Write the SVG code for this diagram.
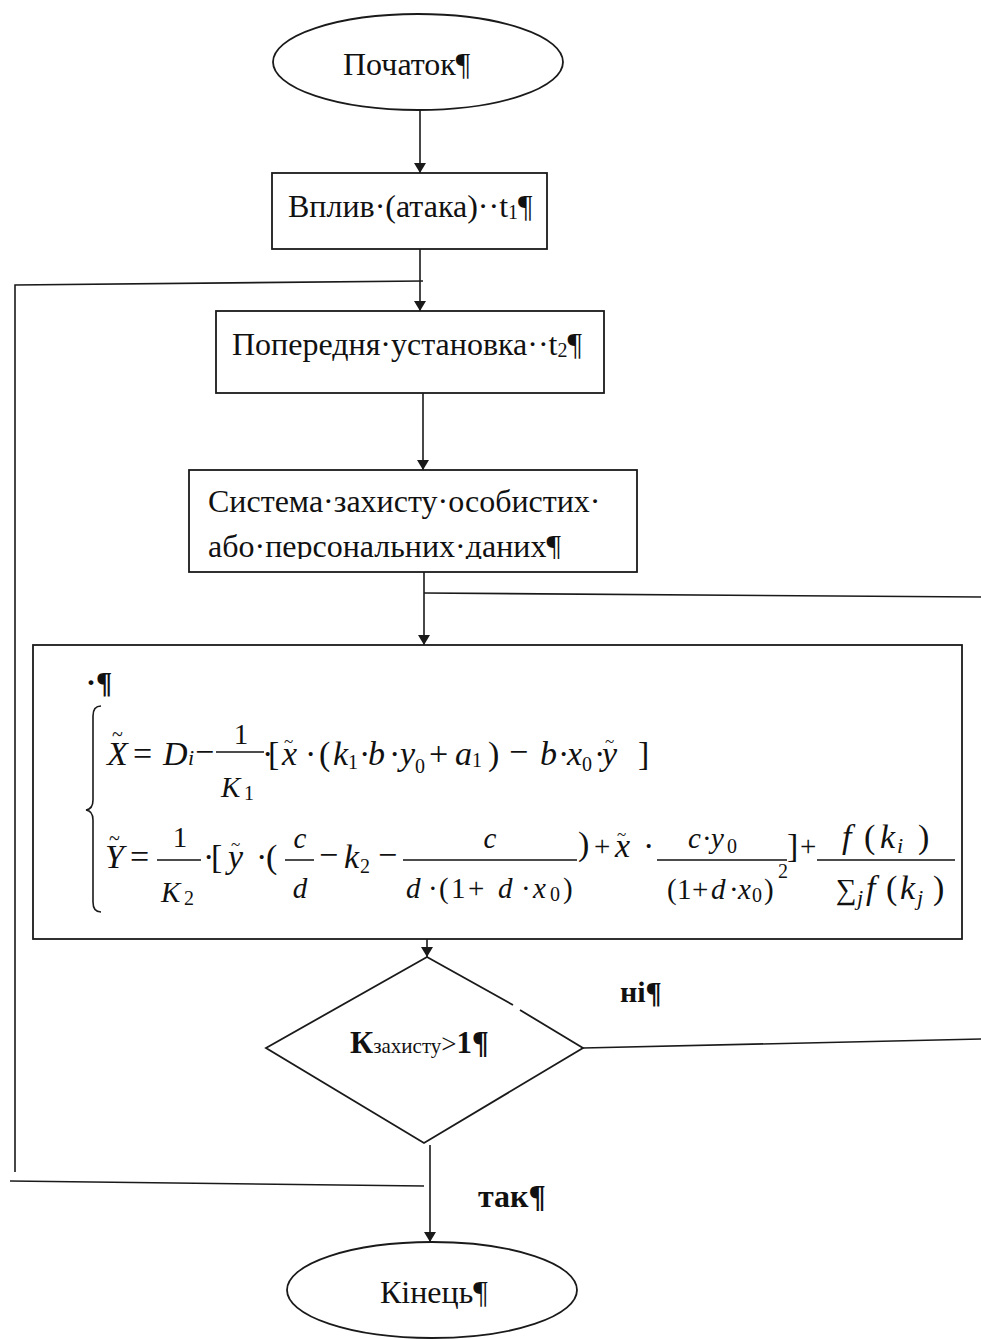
<svg xmlns="http://www.w3.org/2000/svg" width="981" height="1339" viewBox="0 0 981 1339">
<defs>
<style>
.shape{fill:#fff;stroke:#1a1a1a;stroke-width:1.8}
.con{fill:none;stroke:#1a1a1a;stroke-width:1.6}
.t{font-family:"Liberation Serif","Times New Roman",serif;font-size:32px;fill:#111}
.b{font-family:"Liberation Serif","Times New Roman",serif;font-weight:bold;fill:#111}
.mi{font-family:"Liberation Serif",serif;font-style:italic;font-size:34px;fill:#111}
.mn{font-family:"Liberation Serif",serif;font-size:34px;fill:#111}
.fi{font-family:"Liberation Serif",serif;font-style:italic;font-size:29px;fill:#111}
.fn{font-family:"Liberation Serif",serif;font-size:29px;fill:#111}
.sn{font-family:"Liberation Serif",serif;font-size:20px;fill:#111}
.si{font-family:"Liberation Serif",serif;font-style:italic;font-size:22px;fill:#111}
.tl{font-family:"Liberation Serif",serif;font-size:20px;fill:#111}
.tls{font-family:"Liberation Serif",serif;font-size:17px;fill:#111}
.bar{stroke:#111;stroke-width:1.5}
</style>
<marker id="arr" viewBox="0 0 10 12" markerWidth="10" markerHeight="12" refX="10" refY="6" orient="auto" markerUnits="userSpaceOnUse">
<path d="M0,0 L10,6 L0,12 z" fill="#1a1a1a"/>
</marker>
<clipPath id="clip3"><rect x="189" y="470" width="449" height="89"/></clipPath>
</defs>

<g id="connectors">
<line class="con" x1="420" y1="110" x2="420" y2="173" marker-end="url(#arr)"/>
<line class="con" x1="420" y1="249" x2="420" y2="311" marker-end="url(#arr)"/>
<polyline class="con" points="423,281 15,285 15,1172"/>
<line class="con" x1="423" y1="393" x2="423" y2="470" marker-end="url(#arr)"/>
<line class="con" x1="424" y1="572" x2="424" y2="645" marker-end="url(#arr)"/>
<line class="con" x1="424" y1="593" x2="981" y2="597"/>
<line class="con" x1="427" y1="939" x2="427" y2="957" marker-end="url(#arr)"/>
<line class="con" x1="583" y1="1048" x2="981" y2="1039"/>
<line class="con" x1="430" y1="1145" x2="430" y2="1242" marker-end="url(#arr)"/>
<line class="con" x1="10" y1="1181" x2="424" y2="1186"/>
</g>

<g id="start">
<ellipse class="shape" cx="418" cy="62" rx="145" ry="48"/>
<text class="t" x="343" y="75">Початок¶</text>
</g>

<g id="attack">
<rect class="shape" x="272" y="173" width="275" height="76"/>
<text class="t" x="288" y="217">Вплив·(атака)··t<tspan style="font-size:20px" dy="2">1</tspan><tspan dy="-2">¶</tspan></text>
</g>

<g id="preset">
<rect class="shape" x="216" y="311" width="388" height="82"/>
<text class="t" x="232" y="355">Попередня·установка··t<tspan style="font-size:20px" dy="2">2</tspan><tspan dy="-2">¶</tspan></text>
</g>

<g id="protection">
<rect class="shape" x="189" y="470" width="448" height="102"/>
<g clip-path="url(#clip3)">
<text class="t" x="208" y="512">Система·захисту·особистих·</text>
<text class="t" x="208" y="557">або·персональних·даних¶</text>
</g>
</g>

<g id="model">
<rect class="shape" x="33" y="645" width="929" height="294"/>
<text class="b" style="font-size:30px" x="86" y="692">·¶</text>
<path class="con" d="M101,706 Q93,706 93,716 L93,800 Q93,809 86,810 Q93,811 93,820 L93,902 Q93,912 101,912"/>
<!-- equation 1 -->
<text class="mi" x="107" y="765">X</text>
<text class="tl" x="112" y="741">~</text>
<text class="mn" x="133" y="765">=</text>
<text class="mi" x="163" y="765">D</text>
<text class="si" x="188" y="765">i</text>
<text class="mn" x="195" y="763">−</text>
<line class="bar" x1="216" y1="752" x2="264" y2="752"/>
<text class="fn" x="241" y="744" text-anchor="middle">1</text>
<text class="fi" x="221" y="797">K</text>
<text class="sn" x="244" y="800">1</text>
<text class="mn" x="262" y="765">·</text>
<text class="mn" x="268" y="765">[</text>
<text class="mi" x="282" y="765">x</text>
<text class="tls" x="284" y="747">~</text>
<text class="mn" x="305" y="765">·</text>
<text class="mn" x="319" y="765">(</text>
<text class="mi" x="333" y="765">k</text>
<text class="sn" x="348" y="769">1</text>
<text class="mn" x="359" y="765">·</text>
<text class="mi" x="368" y="765">b</text>
<text class="mn" x="389" y="765">·</text>
<text class="mi" x="400" y="765">y</text>
<text class="sn" x="415" y="773">0</text>
<text class="mn" x="429" y="765">+</text>
<text class="mi" x="455" y="765">a</text>
<text class="sn" x="472" y="767">1</text>
<text class="mn" x="488" y="765">)</text>
<text class="mn" x="509" y="763">−</text>
<text class="mi" x="540" y="765">b</text>
<text class="mn" x="558" y="765">·</text>
<text class="mi" x="567" y="765">x</text>
<text class="sn" x="582" y="771">0</text>
<text class="mn" x="594" y="765">·</text>
<text class="mi" x="602" y="765">y</text>
<text class="tls" x="605" y="747">~</text>
<text class="mn" x="638" y="765">]</text>
<!-- equation 2 -->
<text class="mi" x="105" y="868">Y</text>
<text class="tl" x="109" y="845">~</text>
<text class="mn" x="130" y="868">=</text>
<line class="bar" x1="157" y1="860" x2="201" y2="860"/>
<text class="fn" x="180" y="847" text-anchor="middle">1</text>
<text class="fi" x="161" y="902">K</text>
<text class="sn" x="184" y="905">2</text>
<text class="mn" x="203" y="868">·</text>
<text class="mn" x="211" y="868">[</text>
<text class="mi" x="228" y="868">y</text>
<text class="tls" x="231" y="850">~</text>
<text class="mn" x="256" y="868">·</text>
<text class="mn" x="266" y="868">(</text>
<line class="bar" x1="285" y1="860" x2="314" y2="860"/>
<text class="fi" x="300" y="848" text-anchor="middle">c</text>
<text class="fi" x="300" y="898" text-anchor="middle">d</text>
<text class="mn" x="319" y="866">−</text>
<text class="mi" x="344" y="868">k</text>
<text class="sn" x="360" y="873">2</text>
<text class="mn" x="378" y="866">−</text>
<line class="bar" x1="403" y1="860" x2="577" y2="860"/>
<text class="fi" x="490" y="848" text-anchor="middle">c</text>
<text class="fi" x="406" y="898">d</text>
<text class="fn" x="428" y="898">·</text>
<text class="fn" x="439" y="898">(</text>
<text class="fn" x="451" y="898">1</text>
<text class="fn" x="468" y="898">+</text>
<text class="fi" x="498" y="898">d</text>
<text class="fn" x="521" y="898">·</text>
<text class="fi" x="533" y="898">x</text>
<text class="sn" x="550" y="901">0</text>
<text class="fn" x="563" y="898">)</text>
<text class="mn" x="578" y="855">)</text>
<text class="fn" x="594" y="856">+</text>
<text class="mi" x="615" y="857">x</text>
<text class="tls" x="617" y="840">~</text>
<text class="mn" x="643" y="857">·</text>
<line class="bar" x1="657" y1="860" x2="787" y2="860"/>
<text class="fi" x="688" y="848">c</text>
<text class="fn" x="702" y="848">·</text>
<text class="fi" x="711" y="848">y</text>
<text class="sn" x="727" y="853">0</text>
<text class="fn" x="667" y="899">(</text>
<text class="fn" x="677" y="899">1</text>
<text class="fn" x="692" y="899">+</text>
<text class="fi" x="711" y="899">d</text>
<text class="fn" x="729" y="899">·</text>
<text class="fi" x="738" y="899">x</text>
<text class="sn" x="752" y="902">0</text>
<text class="fn" x="764" y="899">)</text>
<text class="sn" x="778" y="878">2</text>
<text class="mn" x="787" y="857">]</text>
<text class="fn" x="800" y="856">+</text>
<line class="bar" x1="817" y1="860" x2="955" y2="860"/>
<text class="mi" x="842" y="848">f</text>
<text class="mn" x="864" y="848">(</text>
<text class="mi" x="880" y="848">k</text>
<text class="si" x="897" y="853">i</text>
<text class="mn" x="918" y="848">)</text>
<text class="fn" x="836" y="899">∑</text>
<text class="si" x="857" y="905">j</text>
<text class="mi" x="866" y="899">f</text>
<text class="mn" x="886" y="899">(</text>
<text class="mi" x="900" y="899">k</text>
<text class="si" x="917" y="905">j</text>
<text class="mn" x="933" y="899">)</text>
</g>

<g id="decision">
<path class="shape" d="M520,1010 L583,1048 L424,1143 L266,1048 L427,957 L513,1005"/>
<text x="350" y="1053" style="font-family:'Liberation Serif',serif;fill:#111"><tspan style="font-size:32px;font-weight:bold">К</tspan><tspan style="font-size:21px">захисту</tspan><tspan style="font-size:27px">&gt;</tspan><tspan style="font-size:31px;font-weight:bold">1¶</tspan></text>
</g>

<g id="labels">
<text class="b" style="font-size:30px" x="620" y="1002">ні¶</text>
<text class="b" style="font-size:32px" x="478" y="1207">так¶</text>
</g>

<g id="end">
<ellipse class="shape" cx="432" cy="1290" rx="145" ry="48"/>
<text class="t" x="380" y="1303">Кінець¶</text>
</g>
</svg>
